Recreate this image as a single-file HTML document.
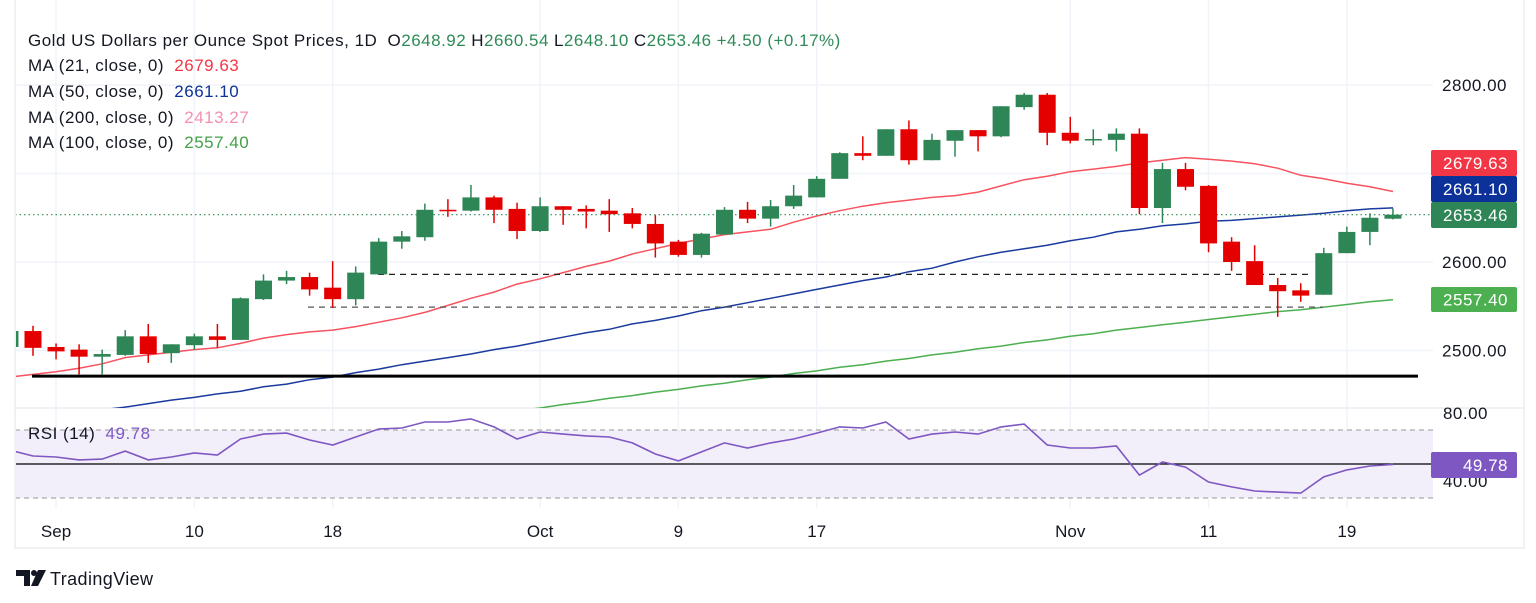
<!DOCTYPE html>
<html><head><meta charset="utf-8"><style>
body{margin:0;background:#fff;width:1536px;height:603px;overflow:hidden;font-family:"Liberation Sans",sans-serif}
svg{display:block}
</style></head><body>
<svg id="c" width="1536" height="603" xmlns="http://www.w3.org/2000/svg" font-family="Liberation Sans, sans-serif">
<defs>
<clipPath id="mainClip"><rect x="16" y="0" width="1417" height="408"/></clipPath>
<clipPath id="rsiClip"><rect x="16" y="409" width="1417" height="99"/></clipPath>
</defs>
<rect x="0" y="0" width="1536" height="603" fill="#fff"/>
<rect x="15" y="-2" width="1509" height="550" fill="none" stroke="#e0e3eb"/>
<line x1="15" y1="408" x2="1524" y2="408" stroke="#e0e3eb"/>
<g id="grid"></g>
<g id="main" clip-path="url(#mainClip)"></g>
<g id="rsi" clip-path="url(#rsiClip)"></g>
<g id="axes"></g>
<g id="legend" font-size="17" letter-spacing="0.5" fill="#131722">
<text x="28" y="46">Gold US Dollars per Ounce Spot Prices, 1D <tspan dx="5">O</tspan><tspan fill="#2e8b57">2648.92</tspan><tspan dx="5">H</tspan><tspan fill="#2e8b57">2660.54</tspan><tspan dx="5">L</tspan><tspan fill="#2e8b57">2648.10</tspan><tspan dx="5">C</tspan><tspan fill="#2e8b57">2653.46</tspan><tspan dx="5" fill="#2e8b57">+4.50 (+0.17%)</tspan></text>
<text x="28" y="71">MA (21, close, 0) <tspan dx="5" fill="#f23645">2679.63</tspan></text>
<text x="28" y="97">MA (50, close, 0) <tspan dx="5" fill="#0c3299">2661.10</tspan></text>
<text x="28" y="123">MA (200, close, 0) <tspan dx="5" fill="#f48fb1">2413.27</tspan></text>
<text x="28" y="148">MA (100, close, 0) <tspan dx="5" fill="#43a047">2557.40</tspan></text>
<text x="28" y="439">RSI (14) <tspan dx="5" fill="#7e57c2">49.78</tspan></text>
</g>
<g>
<path d="M16 570 h14 v16 h-6 v-10 h-8 z" fill="#131722"/>
<circle cx="34" cy="573" r="3" fill="#131722"/>
<path d="M38 570 h8 l-8 16 h-7 z" fill="#131722"/>
<text x="50" y="585" font-size="18" letter-spacing="0.4" fill="#131722">TradingView</text>
</g>
</svg>
<script>
const categories=['Aug30','Sep3','Sep4','Sep5','Sep6','Sep9','Sep10','Sep11','Sep12','Sep13','Sep16','Sep17','Sep18','Sep19','Sep20','Sep23','Sep24','Sep25','Sep26','Sep27','Sep30','Oct1','Oct2','Oct3','Oct4','Oct7','Oct8','Oct9','Oct10','Oct11','Oct14','Oct15','Oct16','Oct17','Oct18','Oct21','Oct22','Oct23','Oct24','Oct25','Oct28','Oct29','Oct30','Oct31','Nov1','Nov4','Nov5','Nov6','Nov7','Nov8','Nov11','Nov12','Nov13','Nov14','Nov15','Nov18','Nov19','Nov20','Nov21','Nov22','Nov25'];
const openV=[2504,2522,2504,2501,2493,2495,2516,2497,2506,2516,2512,2558,2579,2583,2571,2558,2586,2623,2628,2659,2658,2673,2660,2635,2663,2660,2658,2655,2643,2623,2608,2631,2659,2649,2663,2673,2694,2723,2720,2750,2715,2737,2749,2742,2775,2789,2746,2738,2738,2745,2661,2705,2686,2623,2601,2574,2568,2563,2610,2634,2648.92];
const highV=[2524,2528,2508,2507,2501,2523,2530,2507,2519,2530,2560,2586,2590,2588,2601,2595,2627,2635,2666,2671,2687,2675,2667,2673,2663,2664,2671,2661,2653,2625,2633,2662,2668,2670,2687,2697,2724,2742,2750,2760,2745,2749,2749,2776,2791,2791,2764,2750,2751,2751,2712,2712,2687,2628,2619,2582,2576,2616,2640,2655,2660.54];
const lowV=[2502,2494,2490,2473,2473,2494,2486,2486,2501,2503,2512,2557,2575,2562,2548,2551,2586,2615,2624,2651,2657,2644,2626,2634,2642,2638,2634,2638,2605,2606,2605,2631,2644,2640,2660,2673,2694,2715,2720,2710,2715,2719,2725,2741,2772,2732,2734,2732,2725,2654,2644,2681,2611,2590,2574,2538,2555,2563,2610,2619,2648.10];
const closeV=[2522,2503,2499,2493,2496,2516,2496,2507,2516,2512,2559,2579,2583,2569,2558,2588,2623,2629,2659,2658,2673,2659,2635,2663,2659,2657,2654,2643,2621,2608,2632,2659,2649,2663,2675,2694,2723,2720,2750,2715,2738,2749,2742,2776,2789,2746,2737,2739,2745,2661,2705,2685,2621,2600,2574,2567,2562,2610,2634,2650,2653.46];
const ma21=[2470,2473,2476,2480,2485,2492,2495,2498,2501,2503,2508,2514,2518,2521,2523,2527,2532,2537,2543,2551,2559,2566,2575,2581,2588,2595,2601,2609,2615,2621,2626,2631,2634,2637,2645,2652,2658,2663,2667,2670,2673,2675,2679,2686,2693,2697,2702,2705,2708,2712,2715,2718,2716,2714,2711,2706,2698,2694,2689,2685,2679.63];
const ma50=[2416,2420,2425,2428,2433,2436,2440,2444,2447,2451,2454,2459,2462,2467,2470,2475,2479,2484,2488,2492,2496,2501,2505,2510,2515,2520,2524,2530,2534,2539,2545,2549,2554,2559,2564,2569,2574,2579,2583,2589,2593,2600,2606,2611,2615,2619,2624,2628,2634,2637,2641,2643,2646,2647,2649,2651,2653,2655,2658,2660,2661.10];
const ma100=[2356,2360,2363,2367,2370,2374,2378,2381,2385,2388,2392,2395,2399,2402,2406,2409,2413,2416,2420,2423,2427,2430,2432,2435,2439,2442,2446,2449,2453,2456,2460,2463,2467,2470,2474,2477,2481,2484,2488,2491,2495,2498,2502,2505,2509,2512,2516,2519,2523,2526,2529,2532,2535,2538,2541,2544,2546,2549,2552,2555,2557.40];
const rsiV=[58.2,54.7,54.1,52.4,52.9,57.6,52.4,54.1,56.5,55.3,64.7,67.6,68.2,64.1,61.2,65.9,70.6,71.2,74.7,74.7,76.5,71.8,64.7,68.8,67.6,66.5,65.9,62.4,55.9,51.8,57.1,62.4,59.4,62.4,64.7,68.2,71.8,71.2,74.7,64.7,67.6,68.8,67.6,71.8,73.5,61.2,59.4,59.4,60.6,43.5,51.2,48.2,39.4,36.5,34.1,33.5,32.9,42.4,46.5,48.8,49.78];
const priceTicks=[2500,2600,2800];
const rsiTicks=[80,40];
const timeLabels=['Sep','10','18','Oct','9','17','Nov','11','19'];
const timeIdx=[2,8,14,23,29,35,46,52,58];
const levelSupport=[2586,2549];
const levelBase=2471;

const NS='http://www.w3.org/2000/svg';
const X=i=>33+(i-1)*23.05;
const Y=p=>262-(p-2600)*0.885;
const R=v=>464-(v-50)*1.7;
function mk(tag,attrs,parent){const e=document.createElementNS(NS,tag);for(const k in attrs)e.setAttribute(k,attrs[k]);parent.appendChild(e);return e;}
const grid=document.getElementById('grid'),main=document.getElementById('main'),rsi=document.getElementById('rsi'),axes=document.getElementById('axes');

priceTicks.concat([2700]).forEach(p=>{const l=mk('line',{x1:15,x2:1433,y1:Y(p),y2:Y(p),stroke:'#f0f3fa','stroke-width':1.5},grid);

});
timeIdx.forEach(i=>{const l=mk('line',{x1:X(i),x2:X(i),y1:0,y2:508,stroke:'#f0f3fa','stroke-width':1.5},grid);

});

function line(arr,color,name,w){let d='';arr.forEach((v,i)=>{if(v==null)return;d+=(d?'L':'M')+X(i).toFixed(1)+' '+Y(v).toFixed(1);});
const p=mk('path',{d:d,fill:'none',stroke:color,'stroke-width':w||1.5},main);

}
line(ma100,'#4caf50','ma100-line');
line(ma50,'#1a3a9e','ma50-line');
line(ma21,'#f7525f','ma21-line');

const lv1=mk('line',{x1:378,x2:1313,y1:Y(levelSupport[0]),y2:Y(levelSupport[0]),stroke:'#222','stroke-dasharray':'6 5','stroke-width':1.3},main);


const lv2=mk('line',{x1:308,x2:1323,y1:Y(levelSupport[1]),y2:Y(levelSupport[1]),stroke:'#555','stroke-dasharray':'6 5','stroke-width':1.3},main);


const lb=mk('line',{x1:32,x2:1418,y1:Y(levelBase),y2:Y(levelBase),stroke:'#000','stroke-width':3},main);


const lp=closeV[closeV.length-1];
const pl=mk('line',{x1:15,x2:1433,y1:Y(lp),y2:Y(lp),stroke:'#2e8b57','stroke-dasharray':'1.5 3','stroke-width':1.2},main);



categories.forEach((c,i)=>{const up=closeV[i]>=openV[i];const col=up?'#2e8555':'#e50000';const x=X(i);
const g=mk('g',{},main);


mk('line',{x1:x,x2:x,y1:Y(highV[i]),y2:Y(lowV[i]),stroke:col,'stroke-width':1.5},g);
const t=Y(Math.max(openV[i],closeV[i])),b=Y(Math.min(openV[i],closeV[i]));
mk('rect',{x:x-8.5,y:t,width:17,height:Math.max(b-t,1.5),fill:col},g);});

const band=mk('rect',{x:15,y:R(70),width:1418,height:R(30)-R(70),fill:'#f2eefa'},rsi);


[70,30].forEach(v=>{const l=mk('line',{x1:15,x2:1433,y1:R(v),y2:R(v),stroke:'#999','stroke-dasharray':'5 4'},rsi);

});
const mid=mk('line',{x1:15,x2:1433,y1:R(50),y2:R(50),stroke:'#000','stroke-width':1.2},rsi);


let rd='';rsiV.forEach((v,i)=>{rd+=(i?'L':'M')+X(i).toFixed(1)+' '+R(v).toFixed(1);});
const rl=mk('path',{d:rd,fill:'none',stroke:'#7e57c2','stroke-width':1.6},rsi);



priceTicks.forEach(p=>{const t=mk('text',{x:1507,y:Y(p)+6,'text-anchor':'end','font-size':17,'letter-spacing':0.5,fill:'#131722'},axes);t.textContent=p.toFixed(2);

});
rsiTicks.forEach(v=>{const t=mk('text',{x:1488,y:R(v)+6,'text-anchor':'end','font-size':17,'letter-spacing':0.5,fill:'#131722'},axes);t.textContent=v.toFixed(2);

});
timeLabels.forEach((s,k)=>{const t=mk('text',{x:X(timeIdx[k]),y:537,'text-anchor':'middle','font-size':17,fill:'#131722'},axes);t.textContent=s;

});
function badge(y,h,txt,bg,name){const g=mk('g',{},axes);


mk('rect',{x:1431,y:y,width:86,height:h,rx:2,fill:bg},g);
const t=mk('text',{x:1508,y:y+h/2+6,'text-anchor':'end','font-size':17,'letter-spacing':0.5,fill:'#fff'},g);t.textContent=txt;}
badge(150,26,'2679.63','#f23645','ma21-badge');
badge(176,26,'2661.10','#0c3299','ma50-badge');
badge(202,26,'2653.46','#2e8555','last-price-badge');
badge(287,25,'2557.40','#4caf50','ma100-badge');
badge(452,26,'49.78','#7e57c2','rsi-badge');
</script>
</body></html>
